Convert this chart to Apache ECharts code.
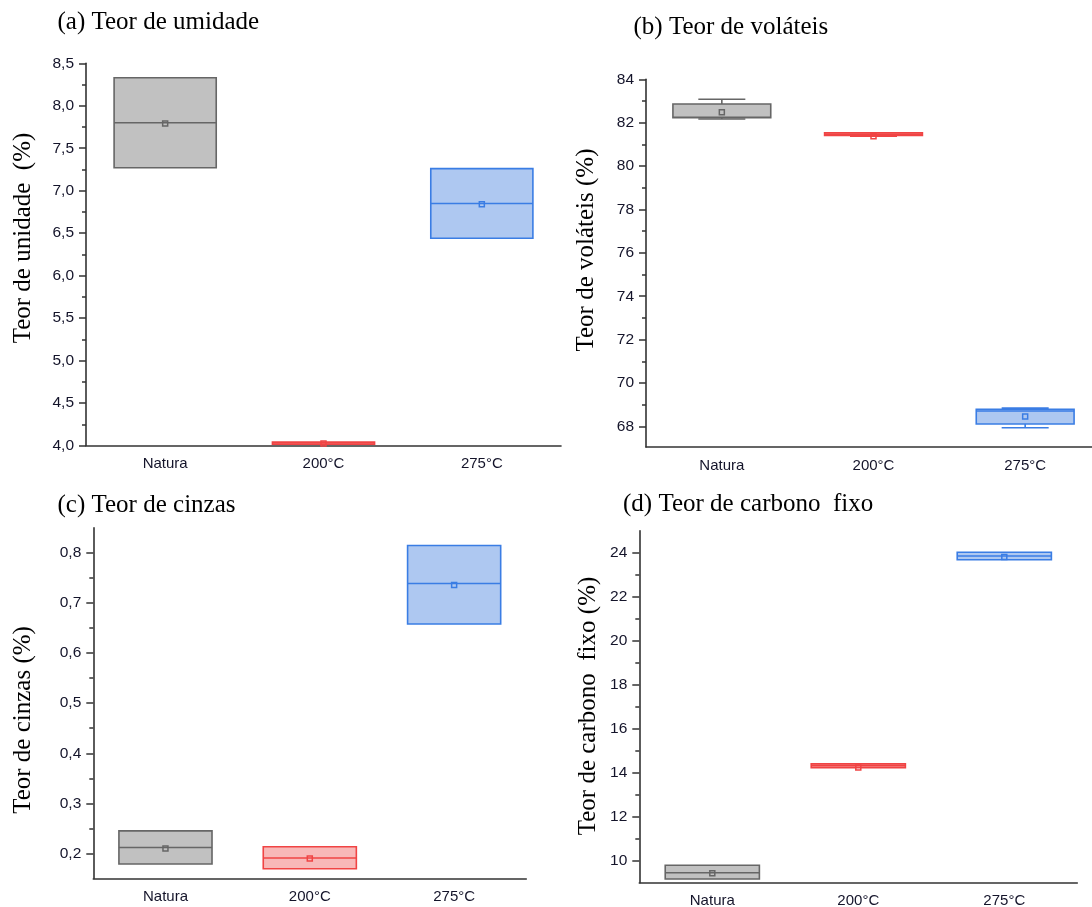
<!DOCTYPE html>
<html>
<head>
<meta charset="utf-8">
<title>Teores</title>
<script src="https://cdn.jsdelivr.net/npm/echarts@6/dist/echarts.min.js"></script>
<style>
    html, body { margin: 0; padding: 0; background: #fff; }
    #main { width: 1092px; height: 907px; }
</style>
</head>
<body>
<div id="main"></div>
<script>
// categorias do eixo x
var categorias = ['Natura', '200°C', '275°C'];

// (a) teor de umidade
var umidadeMin     = [7.27, 4.015, 6.44];
var umidadeQ1      = [7.27, 4.015, 6.44];
var umidadeMediana = [7.80, 4.03, 6.85];
var umidadeQ3      = [8.33, 4.04, 7.26];
var umidadeMax     = [8.33, 4.04, 7.26];
var umidadeMedia   = [7.79, 4.025, 6.84];
var umidadeTicks   = [4.0, 4.5, 5.0, 5.5, 6.0, 6.5, 7.0, 7.5, 8.0, 8.5];

// (b) teor de voláteis
var volateisMin     = [82.17, 81.38, 67.94];
var volateisQ1      = [82.23, 81.41, 68.11];
var volateisMediana = [82.25, 81.47, 68.71];
var volateisQ3      = [82.86, 81.53, 68.79];
var volateisMax     = [83.08, 81.53, 68.84];
var volateisMedia   = [82.48, 81.37, 68.46];
var volateisTicks   = [68, 70, 72, 74, 76, 78, 80, 82, 84];

// (c) teor de cinzas
var cinzasMin     = [0.179, 0.1695, 0.658];
var cinzasQ1      = [0.179, 0.1695, 0.658];
var cinzasMediana = [0.212, 0.191, 0.739];
var cinzasQ3      = [0.245, 0.2134, 0.815];
var cinzasMax     = [0.245, 0.2134, 0.815];
var cinzasMedia   = [0.21, 0.19, 0.736];
var cinzasTicks   = [0.2, 0.3, 0.4, 0.5, 0.6, 0.7, 0.8];

// (d) teor de carbono fixo
var carbonoMin     = [9.17, 14.23, 23.68];
var carbonoQ1      = [9.17, 14.23, 23.68];
var carbonoMediana = [9.45, 14.32, 23.85];
var carbonoQ3      = [9.79, 14.40, 24.02];
var carbonoMax     = [9.79, 14.40, 24.02];
var carbonoMedia   = [9.43, 14.24, 23.80];
var carbonoTicks   = [10, 12, 14, 16, 18, 20, 22, 24];

// cores por categoria (cinza, vermelho, azul)
var cores = [
    {fill: '#c1c1c1', stroke: '#666666'},
    {fill: '#f8b8b8', stroke: '#f04444'},
    {fill: '#aec8f1', stroke: '#3a7de4'}
];

var corEixo = '#333333';
var corTexto = '#14142a';
var fonteSerif = '"Liberation Serif", "Times New Roman", serif';
var fonteSans = '"Liberation Sans", Arial, sans-serif';

var paineis = [
    {
        titulo: '(a) Teor de umidade', nome: 'Teor de unidade  (%)',
        dados: [umidadeMin, umidadeQ1, umidadeMediana, umidadeQ3, umidadeMax, umidadeMedia],
        ticks: umidadeTicks, min: 4.0, max: 8.5, virgula: true,
        grid: {left: 86, top: 63.3, width: 475, height: 382.2},
        tituloPos: [57.5, 22], nomePos: [23, 238]
    },
    {
        titulo: '(b) Teor de voláteis', nome: 'Teor de voláteis (%)',
        dados: [volateisMin, volateisQ1, volateisMediana, volateisQ3, volateisMax, volateisMedia],
        ticks: volateisTicks, min: 67.05, max: 84, virgula: false,
        grid: {left: 646, top: 79.3, width: 455, height: 367.7},
        tituloPos: [633.5, 27], nomePos: [586, 250]
    },
    {
        titulo: '(c) Teor de cinzas', nome: 'Teor de cinzas (%)',
        dados: [cinzasMin, cinzasQ1, cinzasMediana, cinzasQ3, cinzasMax, cinzasMedia],
        ticks: cinzasTicks, min: 0.15, max: 0.85, virgula: true,
        grid: {left: 93.3, top: 527.9, width: 433, height: 350.6},
        tituloPos: [57.5, 505], nomePos: [23.5, 720]
    },
    {
        titulo: '(d) Teor de carbono  fixo', nome: 'Teor de carbono  fixo (%)',
        dados: [carbonoMin, carbonoQ1, carbonoMediana, carbonoQ3, carbonoMax, carbonoMedia],
        ticks: carbonoTicks, min: 9, max: 25, virgula: false,
        grid: {left: 639.3, top: 530.7, width: 438, height: 352},
        tituloPos: [623, 504.5], nomePos: [588, 706]
    }
];

// ticks menores: ponto médio entre os maiores, e um passo fora se couber
function ticksMenores(ticks, min, max) {
    var passo = ticks[1] - ticks[0], res = [];
    var v0 = ticks[0] - passo / 2;
    for (var k = 0; k <= ticks.length; k++) {
        var v = +(v0 + k * passo).toFixed(4);
        if (v > min + 1e-6 && v < max - 1e-6) res.push(v);
    }
    return res;
}

function desenhaCaixa(params, api) {
    var i = api.value(0);
    var vmin = api.value(1), q1 = api.value(2), med = api.value(3);
    var q3 = api.value(4), vmax = api.value(5), media = api.value(6);
    var cor = cores[i];
    var x = api.coord([i, med])[0];
    var banda = api.size([1, 0])[0];
    var bw = banda * 0.645, cw = banda * 0.31;
    var yQ1 = api.coord([i, q1])[1], yQ3 = api.coord([i, q3])[1];
    var yMed = api.coord([i, med])[1], yMedia = api.coord([i, media])[1];
    var linha = {stroke: cor.stroke, lineWidth: 1.6};
    var filhos = [];

    if (vmax > q3 + 1e-9) {
        var yMax = api.coord([i, vmax])[1];
        filhos.push({type: 'line', shape: {x1: x, y1: yQ3, x2: x, y2: yMax}, style: linha});
        filhos.push({type: 'line', shape: {x1: x - cw / 2, y1: yMax, x2: x + cw / 2, y2: yMax}, style: linha});
    }
    if (vmin < q1 - 1e-9) {
        var yMin = api.coord([i, vmin])[1];
        filhos.push({type: 'line', shape: {x1: x, y1: yQ1, x2: x, y2: yMin}, style: linha});
        filhos.push({type: 'line', shape: {x1: x - cw / 2, y1: yMin, x2: x + cw / 2, y2: yMin}, style: linha});
    }
    filhos.push({
        type: 'rect',
        shape: {x: x - bw / 2, y: yQ3, width: bw, height: Math.max(yQ1 - yQ3, 1)},
        style: {fill: cor.fill, stroke: cor.stroke, lineWidth: 1.6}
    });
    filhos.push({type: 'line', shape: {x1: x - bw / 2, y1: yMed, x2: x + bw / 2, y2: yMed}, style: linha});
    filhos.push({
        type: 'rect',
        shape: {x: x - 2.5, y: yMedia - 2.5, width: 5, height: 5},
        style: {fill: 'none', stroke: cor.stroke, lineWidth: 1.5}
    });
    return {type: 'group', children: filhos};
}

var option = {
    animation: false,
    backgroundColor: '#fff',
    grid: [], xAxis: [], yAxis: [], series: [], graphic: []
};

paineis.forEach(function (p, k) {
    option.grid.push(Object.assign({containLabel: false, outerBoundsMode: 'none'}, p.grid));

    option.xAxis.push({
        type: 'category', gridIndex: k, data: categorias, boundaryGap: true,
        axisLine: {onZero: false, lineStyle: {color: corEixo, width: 1.6}},
        axisTick: {alignWithLabel: true, length: 7, lineStyle: {color: corEixo, width: 1.5}},
        axisLabel: {margin: 11, color: corTexto, fontSize: 15, fontFamily: fonteSans},
        splitLine: {show: false}
    });

    // eixo principal: linha, ticks maiores e rótulos
    option.yAxis.push({
        type: 'value', gridIndex: k, position: 'left', min: p.min, max: p.max,
        axisLine: {show: true, lineStyle: {color: corEixo, width: 1.6}},
        axisTick: {show: true, length: 7, customValues: p.ticks, lineStyle: {color: corEixo, width: 1.5}},
        axisLabel: {
            margin: 12, color: corTexto, fontSize: 15.5, fontFamily: fonteSans,
            customValues: p.ticks,
            formatter: function (v) {
                return p.virgula ? v.toFixed(1).replace('.', ',') : String(Math.round(v));
            }
        },
        splitLine: {show: false}
    });
    // eixo auxiliar só com ticks menores, colocado na borda esquerda
    option.yAxis.push({
        type: 'value', gridIndex: k, position: 'right', offset: -p.grid.width,
        min: p.min, max: p.max,
        axisLine: {show: false},
        axisTick: {show: true, inside: true, length: 4, customValues: ticksMenores(p.ticks, p.min, p.max),
            lineStyle: {color: corEixo, width: 1.5}},
        axisLabel: {show: false},
        splitLine: {show: false}
    });

    var d = p.dados;
    option.series.push({
        type: 'custom', xAxisIndex: k, yAxisIndex: 2 * k,
        renderItem: desenhaCaixa,
        encode: {x: 0, y: [1, 2, 3, 4, 5, 6]},
        data: categorias.map(function (c, i) {
            return [i, d[0][i], d[1][i], d[2][i], d[3][i], d[4][i], d[5][i]];
        })
    });

    option.graphic.push({
        type: 'text', x: p.tituloPos[0], y: p.tituloPos[1],
        style: {text: p.titulo, font: '25px ' + fonteSerif, fill: '#000', align: 'left', verticalAlign: 'middle'}
    });
    option.graphic.push({
        type: 'text', x: p.nomePos[0], y: p.nomePos[1], rotation: Math.PI / 2,
        style: {text: p.nome, font: '25px ' + fonteSerif, fill: '#000', align: 'center', verticalAlign: 'middle'}
    });
});

var chart = echarts.init(document.getElementById('main'), null, {renderer: 'canvas'});
chart.setOption(option);
</script>
</body>
</html>
